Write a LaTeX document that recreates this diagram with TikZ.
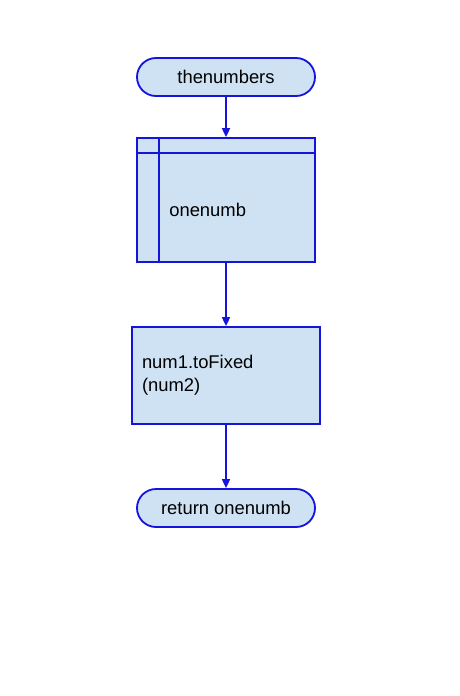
\documentclass[tikz,border=0pt]{standalone}
\usepackage{fontspec}
\setmainfont{Liberation Sans}
\usetikzlibrary{arrows.meta,calc}
\definecolor{fc}{RGB}{207,226,243}
\definecolor{lc}{RGB}{20,20,220}
\begin{document}
\begin{tikzpicture}[x=1pt,y=-1pt,
  every node/.style={font=\fontsize{18.4}{23}\selectfont},
  base/.style={draw=lc,fill=fc,line width=1.8pt,inner sep=0pt},
  termbox/.style={base,rounded corners=19pt,minimum width=178pt,minimum height=38pt},
  subbox/.style={base,minimum width=178pt,minimum height=124pt},
  procbox/.style={base,minimum width=188pt,minimum height=97pt,text width=168pt,align=left},
  txt/.style={inner sep=0pt,anchor=west},
  conn/.style={draw=lc,line width=1.8pt,-{Triangle[length=9pt,width=8pt]}}]
\useasboundingbox (0,0) rectangle (460,696);
\fill[white] (0,0) rectangle (460,696);
\node[termbox] (t1) at (226,77) {thenumbers};
\node[subbox] (s) at (226,200) {};
\draw[lc,line width=1.8pt] ($(s.north west)+(23,0)$) coordinate (v1) -- ($(s.south west)+(23,0)$) coordinate (v2);
\draw[lc,line width=1.8pt] ($(s.north west)+(0,16)$) coordinate (h1) -- ($(s.north east)+(0,16)$) coordinate (h2);
\node[txt] (st) at ($(s.west)+(33,10)$) {onenumb};
\node[procbox] (p) at (226,375.5) {num1.toFixed\\(num2)};
\node[termbox] (t2) at (226,508) {return onenumb};
\draw[conn] (t1) -- (s);
\draw[conn] (s) -- (p);
\draw[conn] (p) -- (t2);
\end{tikzpicture}
\end{document}
